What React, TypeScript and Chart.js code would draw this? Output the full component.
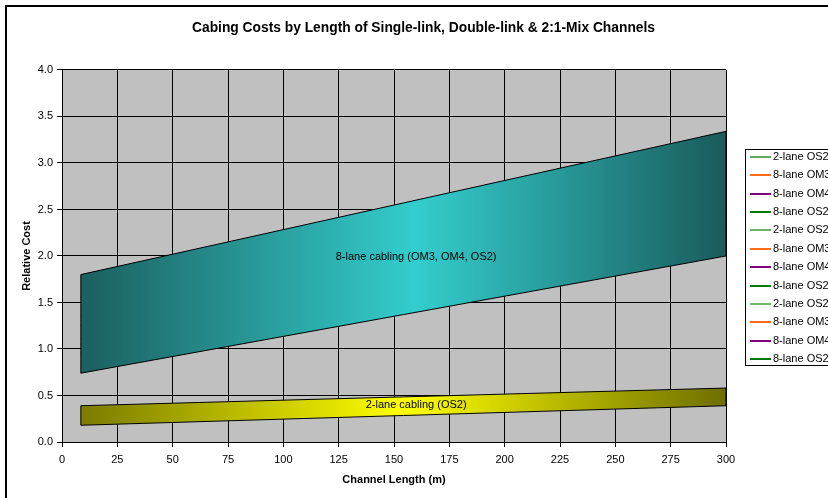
import React, { useEffect, useRef } from 'react';
import { Chart, registerables } from 'chart.js';

Chart.register(...registerables);

const FONT = '"Liberation Sans", Arial, Helvetica, sans-serif';

// Channel length range covered by both cost bands (m)
const bandLength = [8.5, 300];

// 8-lane cabling band (OM3, OM4, OS2): relative cost at each end of the range
const eightLaneUpper = [1.8, 3.34];
const eightLaneLower = [0.74, 2.0];

// 2-lane cabling band (OS2)
const twoLaneUpper = [0.39, 0.58];
const twoLaneLower = [0.18, 0.39];

const bandNames = ['8-lane cabling (OM3, OM4, OS2)', '2-lane cabling (OS2)'];

// Axis ranges and tick steps
const xRange = [0, 300];
const xStep = 25;
const yRange = [0, 4];
const yStep = 0.5;

// Per-channel cost lines (single-link, double-link, 2:1 mix), lying under the bands
const seriesNames = [
  '2-lane OS2', '8-lane OM3', '8-lane OM4', '8-lane OS2',
  '2-lane OS2', '8-lane OM3', '8-lane OM4', '8-lane OS2',
  '2-lane OS2', '8-lane OM3', '8-lane OM4', '8-lane OS2',
];
const seriesStart = [0.22, 0.85, 0.95, 1.05, 0.28, 1.1, 1.25, 1.35, 0.33, 1.4, 1.55, 1.65];
const seriesEnd = [0.42, 2.1, 2.25, 2.4, 0.48, 2.5, 2.65, 2.8, 0.53, 2.9, 3.05, 3.2];

const seriesColors = [
  '#2f8f2f', '#ff6a1a', '#800080', '#007a00',
  '#6ab46a', '#ff6a1a', '#800080', '#007a00',
  '#74b874', '#ff6a1a', '#800080', '#007a00',
];
const seriesWidths = [1.5, 2, 2, 2, 2, 2, 2, 2, 2, 2, 2, 2];

const points = (ys: number[]) => bandLength.map((x, i) => ({ x, y: ys[i] }));
const edge = (i: number, lower: number[], upper: number[]) => [
  { x: bandLength[i], y: lower[i] },
  { x: bandLength[i], y: upper[i] },
];

const bandGradient = (stops: [number, string][]) => (context: any) => {
  const chart = context.chart;
  const xs = chart.scales && chart.scales.x;
  if (!chart.chartArea || !xs) return stops[1][1];
  const x0 = xs.getPixelForValue(bandLength[0]);
  const x1 = xs.getPixelForValue(bandLength[1]);
  const g = chart.ctx.createLinearGradient(x0, 0, x1, 0);
  stops.forEach(([o, c]) => g.addColorStop(o, c));
  return g;
};

const outline = { borderColor: '#000', borderWidth: 1, pointRadius: 0, fill: false };

const plotBackground = {
  id: 'plotBackground',
  beforeDraw(chart: any) {
    const { ctx, chartArea: a } = chart;
    ctx.save();
    ctx.fillStyle = '#c0c0c0';
    ctx.fillRect(a.left, a.top, a.right - a.left, a.bottom - a.top);
    ctx.restore();
  },
};

const bandLabels = {
  id: 'bandLabels',
  afterDatasetsDraw(chart: any, _args: any, opts: any) {
    const { ctx, scales } = chart;
    ctx.save();
    ctx.font = `11px ${FONT}`;
    ctx.fillStyle = '#000';
    ctx.textAlign = 'center';
    ctx.textBaseline = 'middle';
    (opts.items || []).forEach((it: any) => {
      ctx.fillText(it.text, scales.x.getPixelForValue(it.x), scales.y.getPixelForValue(it.y));
    });
    ctx.restore();
  },
};

const boxedLegend = {
  id: 'boxedLegend',
  afterDraw(chart: any) {
    const { ctx, chartArea } = chart;
    const items = chart.data.datasets.filter((d: any) => d.label);
    const left = Math.round(chartArea.right + 19);
    const top = Math.round(chartArea.top + 79);
    const row = 18.4;
    const height = Math.round(14 + (items.length - 1) * row);
    ctx.save();
    ctx.fillStyle = '#fff';
    ctx.fillRect(left, top, 140, height);
    ctx.strokeStyle = '#000';
    ctx.lineWidth = 1;
    ctx.strokeRect(left + 0.5, top + 0.5, 140, height);
    ctx.font = `11px ${FONT}`;
    ctx.textBaseline = 'middle';
    ctx.textAlign = 'left';
    items.forEach((d: any, i: number) => {
      const y = Math.round(top + 7.7 + i * row);
      ctx.beginPath();
      ctx.strokeStyle = d.borderColor;
      ctx.lineWidth = d.borderWidth;
      ctx.moveTo(left + 5, y);
      ctx.lineTo(left + 26, y);
      ctx.stroke();
      ctx.fillStyle = '#000';
      ctx.fillText(d.label, left + 28, y);
    });
    ctx.restore();
  },
};

export default function App() {
  const canvasRef = useRef<HTMLCanvasElement | null>(null);

  useEffect(() => {
    const canvas = canvasRef.current;
    if (!canvas) return;

    const datasets: any[] = [
      // 8-lane band: edges, lower line, upper line filled down to the lower one
      { ...outline, data: edge(0, eightLaneLower, eightLaneUpper) },
      { ...outline, data: edge(1, eightLaneLower, eightLaneUpper) },
      { ...outline, data: points(eightLaneLower) },
      {
        ...outline,
        data: points(eightLaneUpper),
        fill: '-1',
        backgroundColor: bandGradient([
          [0, '#1c5f5f'],
          [0.52, '#34cdcd'],
          [1, '#1a5b5b'],
        ]),
      },
      // 2-lane band
      { ...outline, data: edge(0, twoLaneLower, twoLaneUpper) },
      { ...outline, data: edge(1, twoLaneLower, twoLaneUpper) },
      { ...outline, data: points(twoLaneLower) },
      {
        ...outline,
        data: points(twoLaneUpper),
        fill: '-1',
        backgroundColor: bandGradient([
          [0, '#7b7b00'],
          [0.5, '#ffff00'],
          [1, '#6e6e00'],
        ]),
      },
      ...seriesNames.map((label, i) => ({
        label,
        data: points([seriesStart[i], seriesEnd[i]]),
        borderColor: seriesColors[i],
        borderWidth: seriesWidths[i],
        pointRadius: 0,
        fill: false,
      })),
    ];

    const tickFont = { family: FONT, size: 11 };
    const titleFont = { family: FONT, size: 11, weight: 'bold' as const };

    const chart = new Chart(canvas, {
      type: 'line',
      data: { datasets },
      plugins: [plotBackground, bandLabels, boxedLegend],
      options: {
        animation: false,
        responsive: false,
        devicePixelRatio: 1,
        layout: { padding: { left: 0, right: 0, top: 0, bottom: 35 } },
        plugins: {
          legend: { display: false },
          tooltip: { enabled: false },
          title: {
            display: true,
            text: 'Cabing Costs by Length of Single-link, Double-link & 2:1-Mix Channels',
            color: '#000',
            font: { family: FONT, size: 13.8, weight: 'bold' },
            padding: { top: 13, bottom: 33.4 },
          },
          bandLabels: {
            items: [
              { text: bandNames[0], x: 160, y: 1.99 },
              { text: bandNames[1], x: 160, y: 0.4 },
            ],
          },
        } as any,
        scales: {
          x: {
            type: 'linear',
            min: xRange[0],
            max: xRange[1],
            ticks: { stepSize: xStep, color: '#000', font: tickFont, padding: 6, maxRotation: 0 },
            grid: { color: '#000', lineWidth: 1, tickLength: 5 },
            border: { color: '#000', width: 1 },
            title: {
              display: true,
              text: 'Channel Length (m)',
              color: '#000',
              font: titleFont,
              padding: { top: 0, bottom: 5.4 },
            },
            afterFit: (s: any) => {
              s.height = 50;
            },
          },
          y: {
            type: 'linear',
            min: yRange[0],
            max: yRange[1],
            ticks: {
              stepSize: yStep,
              color: '#000',
              font: tickFont,
              padding: 4,
              callback: (v: any) => Number(v).toFixed(1),
            },
            grid: { color: '#000', lineWidth: 1, tickLength: 5 },
            border: { color: '#000', width: 1 },
            title: {
              display: true,
              text: 'Relative Cost',
              color: '#000',
              font: titleFont,
              padding: { top: 13, bottom: 0 },
            },
            afterFit: (s: any) => {
              s.width = 55;
            },
          },
          // reserves the strip on the right that holds the legend box
          legendSpace: {
            type: 'linear',
            position: 'right',
            display: true,
            grid: { display: false },
            border: { display: false },
            ticks: { display: false },
            afterFit: (s: any) => {
              s.width = 114;
            },
          },
        } as any,
      },
    });

    return () => chart.destroy();
  }, []);

  return (
    <div
      style={{
        position: 'fixed',
        left: 0,
        top: 0,
        width: 828,
        height: 498,
        overflow: 'hidden',
        background: '#fff',
      }}
    >
      <div
        style={{
          position: 'absolute',
          left: 5,
          top: 5,
          width: 833,
          height: 520,
          border: '2px solid #000',
          background: '#fff',
        }}
      >
        <canvas ref={canvasRef} width={833} height={520} style={{ display: 'block', width: 833, height: 520 }} />
      </div>
    </div>
  );
}
